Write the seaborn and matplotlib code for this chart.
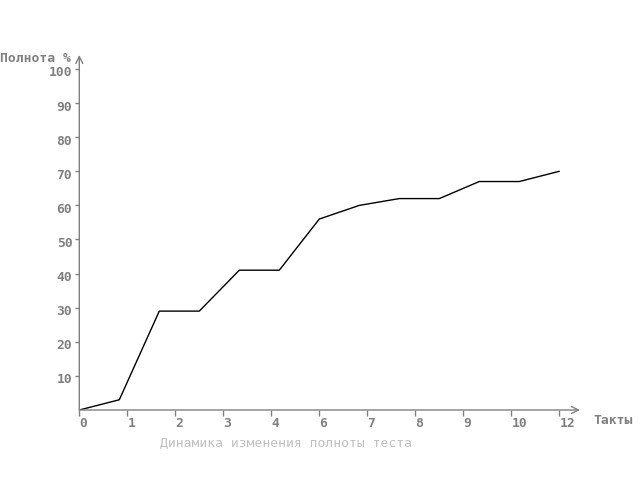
import numpy as np
import pandas as pd
import matplotlib
matplotlib.use("Agg")
import matplotlib.pyplot as plt
import matplotlib.transforms as mtransforms
import seaborn as sns

# data
takts = list(range(13))
completeness = [0, 3, 29, 29, 41, 41, 56, 60, 62, 62, 67, 67, 70]
x_tick_pos = [1.2 * k for k in range(11)]
x_tick_labels = ["0", "1", "2", "3", "4", "6", "7", "8", "9", "10", "12"]
y_ticks = [10, 20, 30, 40, 50, 60, 70, 80, 90, 100]

df = pd.DataFrame({"Такты": takts, "Полнота": completeness})

sns.set_style("white")
plt.rcParams["font.family"] = ["DejaVu Sans Mono"]

fig = plt.figure(figsize=(6.4, 4.8), dpi=100)
W, H = 640, 480
x0, x1 = 79.3, 580
y0, y1 = 410, 55
ax = fig.add_axes([x0 / W, 1 - y0 / H, (x1 - x0) / W, (y0 - y1) / H])

sns.lineplot(data=df, x="Такты", y="Полнота", color="black", lw=1, ax=ax)

ax.set_xlim(0, (x1 - x0) / 40)
ax.set_ylim(0, (y0 - y1) / 3.41)
for s in ax.spines.values():
    s.set_visible(False)

grey = "#808080"
fs = 9.4
# axes with arrow heads
arrow = dict(arrowstyle="->,head_length=0.5,head_width=0.25", color=grey, lw=1,
             shrinkA=0, shrinkB=0)
ax.annotate("", xy=(1, 0), xytext=(0, 0), xycoords="axes fraction", arrowprops=arrow)
ax.annotate("", xy=(0, 1), xytext=(0, 0), xycoords="axes fraction", arrowprops=arrow)

ax.set_xticks(x_tick_pos)
ax.set_xticklabels(x_tick_labels, ha="left")
ax.set_yticks(y_ticks)
ax.set_yticklabels([str(v) for v in y_ticks])
ax.tick_params(axis="x", bottom=True, length=4, width=1, color=grey, pad=1,
               labelsize=fs, labelcolor=grey)
ax.tick_params(axis="y", left=True, length=3, width=1, color=grey, pad=2,
               labelsize=fs, labelcolor=grey)
shift = mtransforms.ScaledTranslation(0, -2.5 / 100, fig.dpi_scale_trans)
for lab in ax.get_xticklabels():
    lab.set_fontweight("bold")
for lab in ax.get_yticklabels():
    lab.set_fontweight("bold")
    lab.set_transform(lab.get_transform() + shift)

ax.set_xlabel("")
ax.set_ylabel("")
fig.text(0 / W, 1 - 59 / H, "Полнота %", ha="left", va="center",
         fontsize=fs, color=grey, fontweight="bold")
fig.text(593 / W, 1 - 420 / H, "Такты", ha="left", va="center",
         fontsize=fs, color=grey, fontweight="bold")
fig.text(286 / W, 1 - 443 / H, "Динамика изменения полноты теста",
         ha="center", va="center", fontsize=fs, color="#c0c0c0")

fig.savefig("out.png", dpi=100)
